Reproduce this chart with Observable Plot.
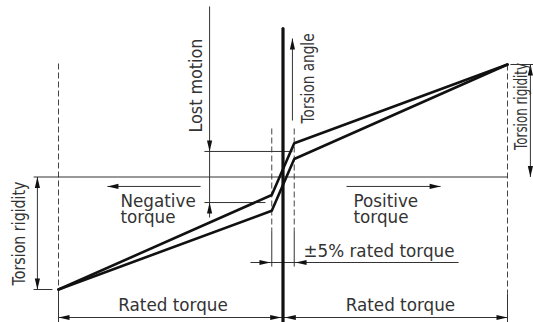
<!DOCTYPE html>
<html>
<head>
<meta charset="utf-8">
<script src="https://cdn.jsdelivr.net/npm/d3@7"></script>
<script src="https://cdn.jsdelivr.net/npm/@observablehq/plot@0.6"></script>
<style>
  html, body { margin: 0; padding: 0; background: #fff; }
  #chart svg { display: block; }
</style>
</head>
<body>
<div id="chart"></div>
<script>
// Units: torque in % of rated torque (x), torsion angle in relative units (y)
const ratedTorque = [-100, 100];
// hysteresis curve: [torque, angle]
const upperCurve = [[-100, -100], [-5, -16], [5, 30], [100, 100]];
const lowerCurve = [[-100, -100], [-5, -30], [5, 16], [100, 100]];

// thin solid guide lines [x1, y1, x2, y2]
const solidLines = [
  [-111.1, 0, 100, 0],            // zero angle line
  [-35, 22.7, 4.2, 22.7],         // lost motion upper
  [-35, -22.7, -7.8, -22.7],      // lost motion lower
  [-32.7, 151.6, -32.7, -36],     // lost motion dimension
  [4.2, 50.2, 4.2, 123.1],        // torsion angle arrow
  [110.2, 0, 110.2, 100],         // right torsion rigidity dim
  [101.3, 100, 112, 100],         // right tick
  [-109.4, -100, -109.4, 0],      // left torsion rigidity dim
  [-111.1, -100, -102.7, -100],   // left tick
  [-36.7, -8.4, -78.2, -8.4],     // negative torque arrow
  [28.3, -8.4, 70.2, -8.4],       // positive torque arrow
  [-14.5, -76, 78.2, -76],        // ±5% dimension
  [-100, -124.9, 100, -124.9],    // rated torque dimension
  [-100, -100, -100, -129.3],     // extension left
  [100, -103.6, 100, -129.3],     // extension right
  [-5, -47.6, -5, -79.6],         // ±5% extension left
  [5, -47.6, 5, -79.6]            // ±5% extension right
];
const dashedLines = [
  [-100, 100.9, -100, -100],
  [100, 100, 100, -103.6],
  [-5, 43.1, -5, -47.6],
  [5, 43.1, 5, -47.6]
];
const axisLine = [[0, 132], [0, -130]];

// arrowheads [x, y, direction in degrees: 0 up, 90 right, 180 down, 270 left]
const arrowHeads = [
  [-32.7, 22.7, 180], [-32.7, -22.7, 0],
  [4.2, 123.1, 0],
  [110.2, 100, 0], [110.2, 0, 180],
  [-109.4, 0, 0], [-109.4, -100, 180],
  [-78.2, -8.4, 270], [70.2, -8.4, 90],
  [-5.6, -76, 90], [5.6, -76, 270],
  [-100, -124.9, 270], [-0.8, -124.9, 90], [0.8, -124.9, 270], [100, -124.9, 90]
];

// labels
const startLabels = [
  {t: "Negative", x: -72.4, y: -27.1},
  {t: "torque", x: -72.4, y: -41.3},
  {t: "Positive", x: 31.4, y: -27.1},
  {t: "torque", x: 31.4, y: -41.3},
  {t: "±5% rated torque", x: 9.1, y: -71.3}
];
const middleLabels = [
  {t: "Rated torque", x: -49, y: -119.3},
  {t: "Rated torque", x: 52.3, y: -119.3}
];
const vLabels = [
  {t: "Lost motion", x: -35.9, y: 81.3},
  {t: "Torsion angle", x: 13.6, y: 87.6},
  {t: "Torsion rigidity", x: -114.7, y: -50.2},
  {t: "Torsion rigidity", x: 108.9, y: 62.7}
];
const vLabelLengths = [94, 90, 104, 87];

const seg = a => ({x1: a[0], y1: a[1], x2: a[2], y2: a[3]});
const arrowSymbol = {
  draw(ctx) {
    ctx.moveTo(0, 0);
    ctx.lineTo(-2.6, 11);
    ctx.lineTo(2.6, 11);
    ctx.closePath();
  }
};

const font = "DejaVu Sans, sans-serif";
const textStyle = {fontSize: 16.8, fill: "#333", lineAnchor: "bottom"};
const plot = Plot.plot({
  width: 533,
  height: 322,
  margin: 0,
  x: {domain: ratedTorque, range: [58, 507], axis: null},
  y: {domain: [-100, 100], range: [289, 64], axis: null},
  style: {background: "#fff", fontFamily: font},
  marks: [
    Plot.link(dashedLines.map(seg), {x1: "x1", y1: "y1", x2: "x2", y2: "y2", stroke: "#444", strokeWidth: 1, strokeDasharray: "6,3"}),
    Plot.link(solidLines.map(seg), {x1: "x1", y1: "y1", x2: "x2", y2: "y2", stroke: "#333", strokeWidth: 1}),
    Plot.line(axisLine, {x: d => d[0], y: d => d[1], stroke: "#111", strokeWidth: 3.2}),
    Plot.line(upperCurve, {x: d => d[0], y: d => d[1], stroke: "#111", strokeWidth: 2.6, strokeLinejoin: "miter"}),
    Plot.line(lowerCurve, {x: d => d[0], y: d => d[1], stroke: "#111", strokeWidth: 2.6, strokeLinejoin: "miter"}),
    Plot.dot(arrowHeads, {x: d => d[0], y: d => d[1], rotate: d => d[2], symbol: arrowSymbol, fill: "#111", stroke: "none"}),
    Plot.text(startLabels, {x: "x", y: "y", text: "t", textAnchor: "start", ...textStyle}),
    Plot.text(middleLabels, {x: "x", y: "y", text: "t", textAnchor: "middle", ...textStyle}),
    Plot.text(vLabels, {x: "x", y: "y", text: "t", rotate: -90, textAnchor: "middle", ...textStyle, className: "vlab"})
  ]
});
document.getElementById("chart").appendChild(plot);
d3.select(plot).selectAll(".vlab text").each(function (d, i) {
  this.setAttribute("textLength", vLabelLengths[i]);
  this.setAttribute("lengthAdjust", "spacingAndGlyphs");
});
</script>
</body>
</html>
